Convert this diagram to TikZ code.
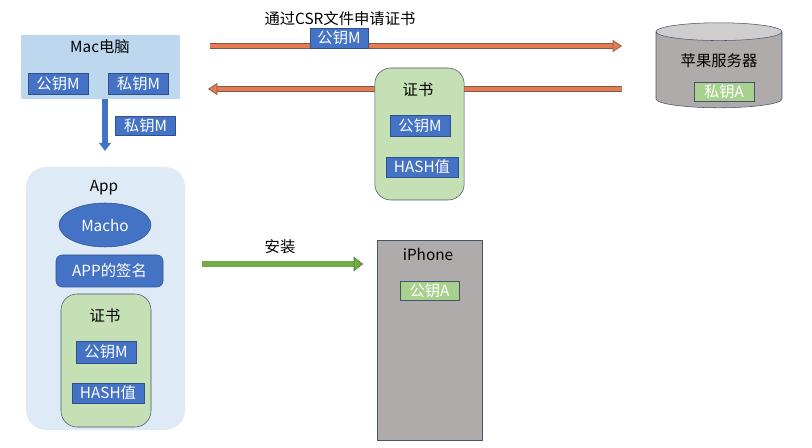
\documentclass[tikz,border=0pt]{standalone}
\usepackage{fontspec}
\setmainfont{Noto Sans CJK SC}
\usepackage{tikz}
\usetikzlibrary{arrows.meta,positioning,shapes.geometric}

\definecolor{macblue}{HTML}{BDD7EE}
\definecolor{appblue}{HTML}{DEEBF7}
\definecolor{keyblue}{HTML}{4472C4}
\definecolor{keyline}{HTML}{2F528F}
\definecolor{certgreen}{HTML}{C5E0B4}
\definecolor{keygreen}{HTML}{A9D18E}
\definecolor{slate}{HTML}{44546A}
\definecolor{phonegrey}{HTML}{AFABAB}
\definecolor{topgrey}{HTML}{CFCDCD}
\definecolor{csrorange}{HTML}{E57C4F}
\definecolor{csrdark}{HTML}{7F5A4A}
\definecolor{instgreen}{HTML}{70AD47}
\definecolor{instdark}{HTML}{4E7A31}

\begin{document}
\begin{tikzpicture}[
  x=0.75pt, y=-0.75pt,
  font=\fontsize{11.5}{13.5}\selectfont,
  bluekey/.style={draw=keyline, fill=keyblue, text=white, inner sep=0pt, minimum width=45pt, minimum height=15.5pt},
  greenkey/.style={draw=slate, fill=keygreen, text=white, inner sep=0pt, minimum width=44pt, minimum height=14.5pt},
  certbox/.style={draw=slate, fill=certgreen, rounded corners=12pt, minimum width=67pt, minimum height=99pt},
  holder/.style={inner sep=0pt},
  orangearr/.style={draw=csrorange, line width=3pt,
    -{Triangle[length=7pt, width=9pt, line width=0.5pt, color=csrdark, fill=csrorange]},
    preaction={draw=csrdark, line width=4.2pt, -, shorten >=6pt}},
  greenarr/.style={draw=instgreen, line width=4pt,
    -{Triangle[length=7pt, width=11pt, line width=0.5pt, color=instdark, fill=instgreen]},
    preaction={draw=instdark, line width=5.2pt, -, shorten >=6pt}},
  bluearr/.style={draw=keyblue, line width=4.5pt, -{Triangle[length=6pt, width=8.5pt]}},
]
  \useasboundingbox (0,0) rectangle (812,448);

  % Mac
  \node[fill=macblue, minimum width=119.25pt, minimum height=48pt] (mac) at (100.5,67) {};
  \node[holder] (mactitle) at (100,47) {Mac电脑};
  \node[bluekey] (macpub) at (58,83.5) {公钥M};
  \node[bluekey] (macpriv) at (138.5,83.5) {私钥M};

  \coordinate (down) at (105,151);
  \draw[bluearr] (mac.south -| down) -- (down);
  \node[bluekey, minimum height=14.25pt] (downkey) at (145.5,125.5) {私钥M};

  % CSR request and returned certificate
  \coordinate (reqA) at (210,46);
  \coordinate (reqB) at (622,46);
  \coordinate (retA) at (622,89);
  \coordinate (retB) at (208,89);
  \draw[orangearr] (reqA) -- (reqB);
  \draw[orangearr] (retA) -- (retB);
  \node[holder] (reqtext) at (340,19) {通过CSR文件申请证书};
  \node[bluekey, minimum width=43.5pt, minimum height=15pt] (reqkey) at (339,38) {公钥M};

  \node[certbox, minimum height=99pt] (cert) at (419.5,134) {};
  \node[holder] (certtitle) at (418,90) {证书};
  \node[bluekey] (certpub) at (420,125.5) {公钥M};
  \node[bluekey, minimum width=54pt, minimum height=15pt] (certhash) at (422,167) {HASH值};

  % Apple server
  \node[cylinder, shape border rotate=90, aspect=2, draw=slate,
    cylinder uses custom fill, cylinder body fill=phonegrey, cylinder end fill=topgrey,
    minimum height=63.75pt, minimum width=94.5pt] (server) at (719,71.5) {};
  \node[holder] (servertext) at (719,61) {苹果服务器};
  \node[greenkey, minimum width=45pt] (serverkey) at (724,92) {私钥A};

  % App
  \node[fill=appblue, rounded corners=15pt, minimum width=119.25pt, minimum height=197.25pt] (app) at (105.5,298.5) {};
  \node[holder] (apptitle) at (104,188) {App};
  \node[ellipse, draw=keyline, fill=keyblue, text=white, minimum width=69pt, minimum height=33pt, inner sep=0pt] (macho) at (105,225) {Macho};
  \node[draw=keyline, fill=keyblue, text=white, rounded corners=4.5pt, minimum width=80.25pt, minimum height=24pt, inner sep=0pt] (sign) at (109.5,271) {APP的签名};
  \node[certbox, minimum width=67.5pt, minimum height=99.75pt] (appcert) at (106,360.5) {};
  \node[holder] (appcerttitle) at (105,316) {证书};
  \node[bluekey, minimum height=16.5pt] (appcertpub) at (106,352) {公钥M};
  \node[bluekey, minimum width=54pt, minimum height=15pt] (appcerthash) at (108,393) {HASH值};

  % install
  \coordinate (instA) at (202,264);
  \coordinate (instB) at (363,264);
  \draw[greenarr] (instA) -- (instB);
  \node[holder] (insttext) at (280,247) {安装};

  % iPhone
  \node[draw=slate, fill=phonegrey, minimum width=78.75pt, minimum height=150pt] (phone) at (429.5,340) {};
  \node[holder] (phonetitle) at (428,254) {iPhone};
  \node[greenkey] (phonekey) at (429.5,290.5) {公钥A};
\end{tikzpicture}
\end{document}
